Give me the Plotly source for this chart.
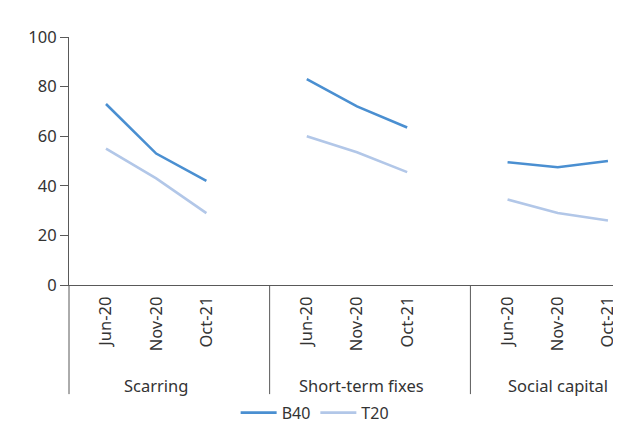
import plotly.graph_objects as go

# datos
groups = ["Scarring", "Short-term fixes", "Social capital"]
periods = ["Jun-20", "Nov-20", "Oct-21"]
b40 = [[73.0, 53.0, 42.0], [83.0, 72.0, 63.5], [49.5, 47.5, 50.0]]
t20 = [[55.0, 43.0, 29.0], [60.0, 53.5, 45.5], [34.5, 29.0, 26.0]]

col_b40 = "#4a8fd1"
col_t20 = "#b2c7e8"
gris = "#595959"
fuente = "Noto Sans"

# posicion de cada periodo: tres por grupo y un hueco entre grupos
step = len(periods) + 1
xpos = [[g * step + i for i in range(len(periods))] for g in range(len(groups))]

fig = go.Figure()
for nombre, serie, color in [("B40", b40, col_b40), ("T20", t20, col_t20)]:
    for g in range(len(groups)):
        fig.add_trace(go.Scatter(
            x=xpos[g], y=serie[g], mode="lines",
            line=dict(color=color, width=2.6),
            name=nombre, legendgroup=nombre, showlegend=(g == 0),
            hoverinfo="skip"))

tickvals = [x for fila in xpos for x in fila]
ticktext = periods * len(groups)

# lineas separadoras y etiquetas de grupo debajo del eje
shapes = [dict(type="line", xref="paper", yref="paper", x0=0, x1=0,
               y0=0, y1=-0.44, line=dict(color=gris, width=1))]
for g in range(1, len(groups)):
    xs = g * step - 0.74
    shapes.append(dict(type="line", xref="x", yref="paper", x0=xs, x1=xs,
                       y0=0, y1=-0.44, line=dict(color=gris, width=1)))
annotations = []
for g, nombre in enumerate(groups):
    annotations.append(dict(text=nombre, x=sum(xpos[g]) / len(xpos[g]) + (0.1 if g == 1 else 0),
                            xref="x", y=-0.405, yref="paper", yanchor="middle",
                            showarrow=False, font=dict(size=16.5, color="#333333")))

# la pagina deja 8px de margen, por eso el tamano es 613x417
fig.update_layout(
    width=613, height=417,
    margin=dict(l=61, r=0, t=29, b=140, autoexpand=False),
    paper_bgcolor="white", plot_bgcolor="white",
    font=dict(family=fuente, size=16.5, color="#333333"),
    shapes=shapes, annotations=annotations,
    legend=dict(orientation="h", x=0.445, xanchor="center", y=-0.515, yanchor="middle",
                font=dict(size=16), itemwidth=36, traceorder="normal"),
    xaxis=dict(range=[-0.737, 10.26], tickvals=tickvals, ticktext=ticktext,
               tickangle=-90, showgrid=False, zeroline=False, showline=True,
               linecolor=gris, linewidth=1, ticks="", ticklabelstandoff=4),
    yaxis=dict(range=[0, 100], dtick=20, showgrid=False, zeroline=False,
               showline=True, linecolor=gris, linewidth=1, ticks="outside",
               ticklen=8, tickcolor=gris),
)

fig.write_html("out.html")
